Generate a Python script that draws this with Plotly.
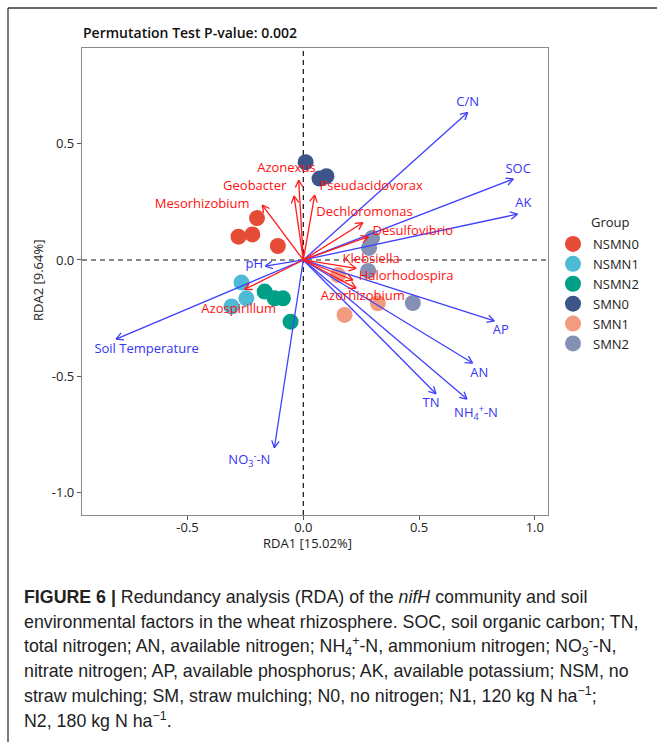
import math
import plotly.graph_objects as go

# ---------------- data ----------------
groups = ["NSMN0", "NSMN1", "NSMN2", "SMN0", "SMN1", "SMN2"]
group_colors = ["#E64B35", "#4DBBD5", "#00A087", "#3C5488", "#F39B7F", "#8491B4"]
site_rda1 = {
    "NSMN0": [-0.20, -0.28, -0.22, -0.11],
    "NSMN1": [-0.267, -0.246, -0.31],
    "NSMN2": [-0.167, -0.124, -0.088, -0.055],
    "SMN0": [0.01, 0.07, 0.10],
    "SMN1": [0.15, 0.322, 0.178],
    "SMN2": [0.297, 0.284, 0.28, 0.473],
}
site_rda2 = {
    "NSMN0": [0.18, 0.10, 0.11, 0.06],
    "NSMN1": [-0.097, -0.165, -0.20],
    "NSMN2": [-0.136, -0.165, -0.165, -0.265],
    "SMN0": [0.42, 0.35, 0.36],
    "SMN1": [-0.065, -0.186, -0.236],
    "SMN2": [0.094, 0.052, -0.047, -0.185],
}

env_names = ["C/N", "SOC", "AK", "AP", "AN", "TN", "NH<sub>4</sub><sup>+</sup>-N",
             "NO<sub>3</sub><sup>-</sup>-N", "Soil Temperature", "pH"]
env_rda1 = [0.71, 0.907, 0.925, 0.825, 0.731, 0.573, 0.707, -0.125, -0.809, -0.164]
env_rda2 = [0.634, 0.348, 0.197, -0.262, -0.443, -0.575, -0.598, -0.807, -0.340, -0.026]
env_label_x = [0.710, 0.928, 0.951, 0.853, 0.760, 0.552, 0.746, -0.233, -0.677, -0.212]
env_label_y = [0.675, 0.387, 0.241, -0.304, -0.490, -0.619, -0.662, -0.864, -0.387, -0.021]

sp_names = ["Azonexus", "Geobacter", "Mesorhizobium", "Pseudacidovorax", "Dechloromonas",
            "Desulfovibrio", "Klebsiella", "Halorhodospira", "Azorhizobium", "Azospirillum"]
sp_rda1 = [-0.02, -0.04, -0.177, 0.049, 0.257, 0.281, 0.228, 0.214, 0.228, -0.253]
sp_rda2 = [0.343, 0.275, 0.236, 0.279, 0.160, 0.100, -0.036, -0.086, -0.122, -0.126]
sp_label_x = [-0.073, -0.210, -0.437, 0.293, 0.264, 0.473, 0.293, 0.444, 0.257, -0.279]
sp_label_y = [0.394, 0.315, 0.236, 0.315, 0.201, 0.122, 0.000, -0.074, -0.160, -0.215]

x_ticks = [-0.5, 0.0, 0.5, 1.0]
y_ticks = [-1.0, -0.5, 0.0, 0.5]
x_range = [-0.956, 1.057]
y_range = [-1.096, 0.911]

# ---------------- layout geometry ----------------
W, H = 657, 742
L, R, T, B = 82, 548, 48, 515
PW, PH = R - L, B - T
sx = PW / (x_range[1] - x_range[0])
sy = PH / (y_range[1] - y_range[0])


def px_x(px):
    return (px - L) / PW


def px_y(py):
    return (B - py) / PH


BLUE = "#3F3FFF"
BLUE_TXT = "#3535F5"
RED = "#FF1A1A"
RED_TXT = "#FF1010"
FONT = "Open Sans"

fig = go.Figure()

# sample points
for g, c in zip(groups, group_colors):
    fig.add_trace(go.Scatter(
        x=site_rda1[g], y=site_rda2[g], mode="markers", name=g,
        marker=dict(color=c, size=16, line=dict(width=0)),
    ))


def arrow_xy(xs, ys, head_len=8, ang=28):
    lx, ly, hx, hy = [], [], [], []
    for x, y in zip(xs, ys):
        lx += [0, x, None]
        ly += [0, y, None]
        a = math.atan2(y * sy, x * sx)
        for s in (1, -1):
            b = a + s * math.radians(ang)
            hx += [x, x - head_len * math.cos(b) / sx, None]
            hy += [y, y - head_len * math.sin(b) / sy, None]
    return lx, ly, hx, hy


for xs, ys, col in ((env_rda1, env_rda2, BLUE), (sp_rda1, sp_rda2, RED)):
    lx, ly, hx, hy = arrow_xy(xs, ys)
    fig.add_trace(go.Scatter(x=lx, y=ly, mode="lines", showlegend=False, hoverinfo="skip",
                             line=dict(color=col, width=1.3)))
    fig.add_trace(go.Scatter(x=hx, y=hy, mode="lines", showlegend=False, hoverinfo="skip",
                             line=dict(color=col, width=1.3)))

fig.add_trace(go.Scatter(x=env_label_x, y=env_label_y, text=env_names, mode="text",
                         showlegend=False, textfont=dict(family=FONT, size=13, color=BLUE_TXT)))
fig.add_trace(go.Scatter(x=sp_label_x, y=sp_label_y, text=sp_names, mode="text",
                         showlegend=False, textfont=dict(family=FONT, size=13, color=RED_TXT)))

# dashed zero lines
fig.add_shape(type="line", xref="x", yref="paper", x0=0, x1=0, y0=0, y1=1,
              line=dict(color="#111", width=1.2, dash="5px,4px"), layer="below")
fig.add_shape(type="line", xref="paper", yref="y", x0=0, x1=1, y0=0, y1=0,
              line=dict(color="#111", width=1.2, dash="5px,4px"), layer="below")

# outer figure frame (top and left)
fig.add_shape(type="line", xref="paper", yref="paper", x0=px_x(8), x1=px_x(W + 5),
              y0=px_y(8), y1=px_y(8), line=dict(color="#333", width=1.3))
fig.add_shape(type="line", xref="paper", yref="paper", x0=px_x(8), x1=px_x(8),
              y0=px_y(8), y1=px_y(H + 5), line=dict(color="#333", width=1.3))

ann = []
ann.append(dict(text="Permutation Test P-value: 0.002", xref="paper", yref="paper",
                x=px_x(81), y=px_y(33), xanchor="left", yanchor="middle", showarrow=False,
                font=dict(family=FONT, size=14, color="#111", weight=600)))
ann.append(dict(text="RDA1 [15.02%]", xref="paper", yref="paper", x=px_x(307), y=px_y(543),
                xanchor="center", yanchor="middle", showarrow=False,
                font=dict(family=FONT, size=13, color="#222")))
ann.append(dict(text="RDA2 [9.64%]", xref="paper", yref="paper", x=px_x(38), y=px_y(281),
                xanchor="center", yanchor="middle", showarrow=False, textangle=-90,
                font=dict(family=FONT, size=13, color="#222")))
ann.append(dict(text="Group", xref="paper", yref="paper", x=px_x(589), y=px_y(222),
                xanchor="left", yanchor="middle", showarrow=False,
                font=dict(family=FONT, size=13, color="#222")))

caption_lines = [
    "<b>FIGURE 6 |</b> Redundancy analysis (RDA) of the <i>nifH</i> community and soil",
    "environmental factors in the wheat rhizosphere. SOC, soil organic carbon; TN,",
    "total nitrogen; AN, available nitrogen; NH<sub>4</sub><sup>+</sup>-N, ammonium nitrogen; NO<sub>3</sub><sup>-</sup>-N,",
    "nitrate nitrogen; AP, available phosphorus; AK, available potassium; NSM, no",
    "straw mulching; SM, straw mulching; N0, no nitrogen; N1, 120 kg N ha<sup>\u22121</sup>;",
    "N2, 180 kg N ha<sup>\u22121</sup>.",
]
cap_y = [597, 622, 646, 671, 695, 720]
for line, yy in zip(caption_lines, cap_y):
    ann.append(dict(text=line, xref="paper", yref="paper", x=px_x(22), y=px_y(yy),
                    xanchor="left", yanchor="middle", showarrow=False,
                    font=dict(family="Liberation Sans", size=17.8, color="#222")))

axis_common = dict(showgrid=False, zeroline=False, showline=True, mirror=True,
                   linecolor="#888", linewidth=1.2, ticks="outside", ticklen=4,
                   tickcolor="#555", tickfont=dict(family=FONT, size=13, color="#222"))

fig.update_layout(
    width=W, height=H, margin=dict(l=L, r=W - R, t=T, b=H - B, pad=0),
    paper_bgcolor="white", plot_bgcolor="white",
    xaxis=dict(range=x_range, tickvals=x_ticks, ticktext=[f"{v:.1f}" for v in x_ticks],
               ticklabelstandoff=-4, **axis_common),
    yaxis=dict(range=y_range, tickvals=y_ticks, ticktext=[f"{v:.1f}" for v in y_ticks], **axis_common),
    showlegend=True,
    legend=dict(x=px_x(553), y=px_y(229), xanchor="left", yanchor="top",
                font=dict(family=FONT, size=13, color="#222"), bgcolor="rgba(0,0,0,0)",
                itemsizing="trace", tracegroupgap=0),
    annotations=ann,
)

fig.write_html("out.html")
